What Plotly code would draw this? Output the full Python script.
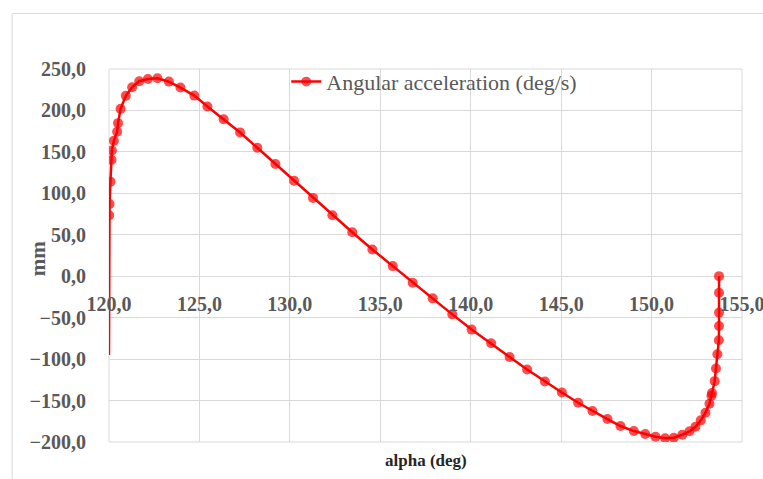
import plotly.graph_objects as go

# Angular acceleration versus crank angle alpha
alpha_deg = [
    120.00, 120.01, 120.03, 120.08, 120.14, 120.16, 120.27, 120.45, 120.50,
    120.64, 120.93, 121.28, 121.67, 122.15, 122.68, 123.31, 123.95, 124.72,
    125.44, 126.34, 127.25, 128.20, 129.20, 130.23, 131.28, 132.35, 133.45,
    134.56, 135.69, 136.79, 137.90, 138.98, 140.05, 141.13, 142.15, 143.12,
    144.10, 145.04, 145.94, 146.73, 147.56, 148.28, 149.02, 149.65, 150.22,
    150.75, 151.23, 151.70, 152.10, 152.43, 152.72, 152.98, 153.20, 153.31,
    153.34, 153.49, 153.56, 153.64, 153.72, 153.73, 153.73, 153.73, 153.73,
]
acceleration = [
    -95.0, 73.5, 87.2, 114.1, 140.2, 151.7, 163.4, 174.2, 184.7,
    201.9, 217.6, 228.0, 235.3, 238.0, 238.9, 234.8, 227.6, 217.9,
    204.7, 189.3, 173.4, 155.0, 135.4, 115.3, 94.5, 73.5, 53.1,
    32.3, 12.2, -7.8, -26.7, -46.0, -64.4, -80.9, -97.4, -112.5,
    -127.0, -140.2, -152.7, -162.7, -172.3, -180.7, -186.8, -190.4, -193.6,
    -195.5, -194.8, -191.2, -187.1, -181.6, -173.9, -164.7, -153.9, -144.3,
    -141.0, -126.6, -111.3, -94.1, -77.3, -60.0, -43.9, -19.9, 0.1,
]

x_ticks = [120, 125, 130, 135, 140, 145, 150, 155]
y_ticks = [-200, -150, -100, -50, 0, 50, 100, 150, 200, 250]

series_name = "Angular acceleration (deg/s)"
x_title = "alpha (deg)"
y_title = "mm"

RED = "#FF0000"
GRID = "#D9D9D9"
TEXT = "#595959"
SERIF = "Liberation Serif, Times New Roman, serif"

# first sample is a plain line start without a marker
marker_sizes = [0] + [10] * (len(alpha_deg) - 1)

fig = go.Figure()
fig.add_trace(go.Scatter(
    x=alpha_deg, y=acceleration, name=series_name,
    mode="lines+markers",
    line=dict(color=RED, width=2.5),
    marker=dict(color=RED, size=marker_sizes, line=dict(width=0)),
    showlegend=True,
))

y_min, y_max = -200, 250
zero_pos = (0 - y_min) / (y_max - y_min)

fig.update_layout(
    width=763, height=479,
    margin=dict(l=109, r=21, t=69, b=37, autoexpand=False),
    paper_bgcolor="white", plot_bgcolor="white",
    separators=", ",
    showlegend=True,
    legend=dict(
        x=0.28, y=1.022, xanchor="left", yanchor="top",
        orientation="h",
        font=dict(family=SERIF, size=22, color=TEXT),
        bgcolor="rgba(255,255,255,0)",
        itemwidth=30,
    ),
    xaxis=dict(
        range=[120, 155], tickvals=x_ticks, tickformat=".1f",
        showgrid=True, gridcolor=GRID, gridwidth=1,
        zeroline=False, showline=False,
        anchor="free", position=zero_pos, automargin=False,
        ticks="outside", ticklen=10, tickcolor="rgba(0,0,0,0)",
        ticklabeloverflow="allow",
        tickfont=dict(family=SERIF, size=20, color=TEXT, weight="bold"),
    ),
    yaxis=dict(
        range=[y_min, y_max], tickvals=y_ticks, tickformat=".1f",
        showgrid=True, gridcolor=GRID, gridwidth=1,
        zeroline=True, zerolinecolor=GRID, zerolinewidth=1,
        showline=False, automargin=False,
        ticks="outside", ticklen=18, tickcolor="rgba(0,0,0,0)",
        tickfont=dict(family=SERIF, size=20, color=TEXT, weight="bold"),
    ),
    annotations=[
        dict(text=f"<b>{x_title}</b>", xref="paper", yref="paper",
             x=0.5, y=-0.02, xanchor="center", yanchor="top", showarrow=False,
             font=dict(family=SERIF, size=17, color="#262626")),
        dict(text=f"<b>{y_title}</b>", xref="paper", yref="paper",
             x=-0.112, y=0.49, xanchor="center", yanchor="middle",
             textangle=-90, showarrow=False,
             font=dict(family=SERIF, size=21, color=TEXT)),
    ],
    shapes=[
        # outer chart frame
        dict(type="rect", xref="paper", yref="paper",
             x0=-0.153, x1=1.2, y0=-0.3, y1=1.149,
             line=dict(color=GRID, width=1), layer="below"),
        # plot area border
        dict(type="rect", xref="paper", yref="paper",
             x0=0, x1=1, y0=0, y1=1,
             line=dict(color=GRID, width=1), layer="below"),
    ],
)

fig.write_html("out.html")
